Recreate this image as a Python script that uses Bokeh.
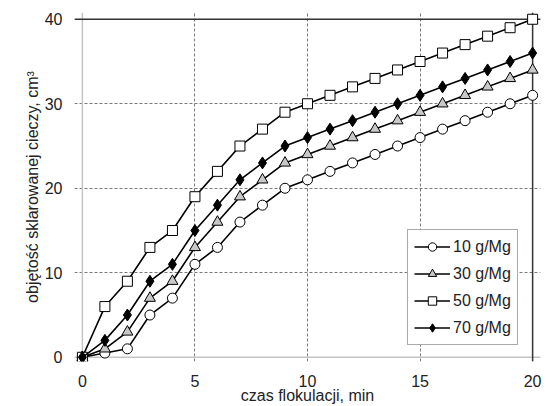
from bokeh.plotting import figure
from bokeh.models import Range1d, FixedTicker, Span, Legend, LegendItem
from bokeh.embed import file_html
from bokeh.resources import INLINE

# ---- data ----
time_min = list(range(0, 21))
s10 = [0, 0.5, 1, 5, 7, 11, 13, 16, 18, 20, 21, 22, 23, 24, 25, 26, 27, 28, 29, 30, 31]
s30 = [0, 1, 3, 7, 9, 13, 16, 19, 21, 23, 24, 25, 26, 27, 28, 29, 30, 31, 32, 33, 34]
s50 = [0, 6, 9, 13, 15, 19, 22, 25, 27, 29, 30, 31, 32, 33, 34, 35, 36, 37, 38, 39, 40]
s70 = [0, 2, 5, 9, 11, 15, 18, 21, 23, 25, 26, 27, 28, 29, 30, 31, 32, 33, 34, 35, 36]
labels = ["10 g/Mg", "30 g/Mg", "50 g/Mg", "70 g/Mg"]
x_ticks = [0, 5, 10, 15, 20]
y_ticks = [0, 10, 20, 30, 40]
x_title = "czas flokulacji, min"
y_title = "objętość sklarowanej cieczy, cm³"

FONT = "Liberation Sans"

p = figure(width=555, height=406, output_backend="svg", toolbar_location=None,
           x_range=Range1d(-0.35, 20.35), y_range=Range1d(-0.5, 40.8),
           min_border_left=74, min_border_right=15, min_border_top=12, min_border_bottom=44)
p.outline_line_color = None
p.background_fill_color = "white"
p.border_fill_color = "white"

for ax in (p.xaxis[0], p.yaxis[0]):
    ax.axis_line_color = None
    ax.major_tick_line_color = None
    ax.minor_tick_line_color = None
    ax.major_label_text_font = FONT
    ax.major_label_text_font_size = "16px"
    ax.major_label_text_color = "#222222"
    ax.axis_label_text_font = FONT
    ax.axis_label_text_font_size = "16px"
    ax.axis_label_text_font_style = "normal"
    ax.axis_label_text_color = "#222222"

p.xaxis.ticker = FixedTicker(ticks=x_ticks)
p.yaxis.ticker = FixedTicker(ticks=y_ticks)
p.xaxis.axis_label = x_title
p.yaxis.axis_label = y_title
p.xaxis.major_label_standoff = 7
p.xaxis.axis_label_standoff = -3
p.yaxis.major_label_standoff = 6
p.yaxis.axis_label_standoff = 1

for g in (p.xgrid[0], p.ygrid[0]):
    g.grid_line_color = "#7a7a7a"
    g.grid_line_dash = "3 2"
    g.grid_line_width = 1

# frame edges
p.add_layout(Span(location=0, dimension="height", line_color="#c4c4c4", line_width=1.5, level="underlay"))
p.add_layout(Span(location=0, dimension="width", line_color="#c4c4c4", line_width=1.5, level="underlay"))
p.add_layout(Span(location=20, dimension="height", line_color="#333333", line_width=1.5, level="underlay"))
p.add_layout(Span(location=40, dimension="width", line_color="#333333", line_width=1.5, level="underlay"))

series = [
    (s10, "circle", 10, "white"),
    (s30, "triangle", 11, "#c8c8c8"),
    (s50, "square", 10, "white"),
    (s70, "diamond", 12, "black"),
]
items = []
for (ys, marker, size, fill), lab in zip(series, labels):
    r1 = p.line(time_min, ys, line_color="black", line_width=1.6)
    r2 = p.scatter(time_min, ys, marker=marker, size=size, fill_color=fill,
                   line_color="black", line_width=1)
    items.append(LegendItem(label=lab, renderers=[r1, r2]))

legend = Legend(items=items, location=(333, 16))
legend.label_text_font = FONT
legend.label_text_font_size = "16px"
legend.label_text_color = "#222222"
legend.border_line_color = "#555555"
legend.border_line_width = 1.5
legend.background_fill_alpha = 1
legend.padding = 6
legend.spacing = 6
legend.margin = 0
legend.glyph_width = 36
legend.glyph_height = 21
legend.label_height = 21
legend.label_standoff = 3
p.add_layout(legend, "center")

open("out.html", "w").write(file_html(p, INLINE))
